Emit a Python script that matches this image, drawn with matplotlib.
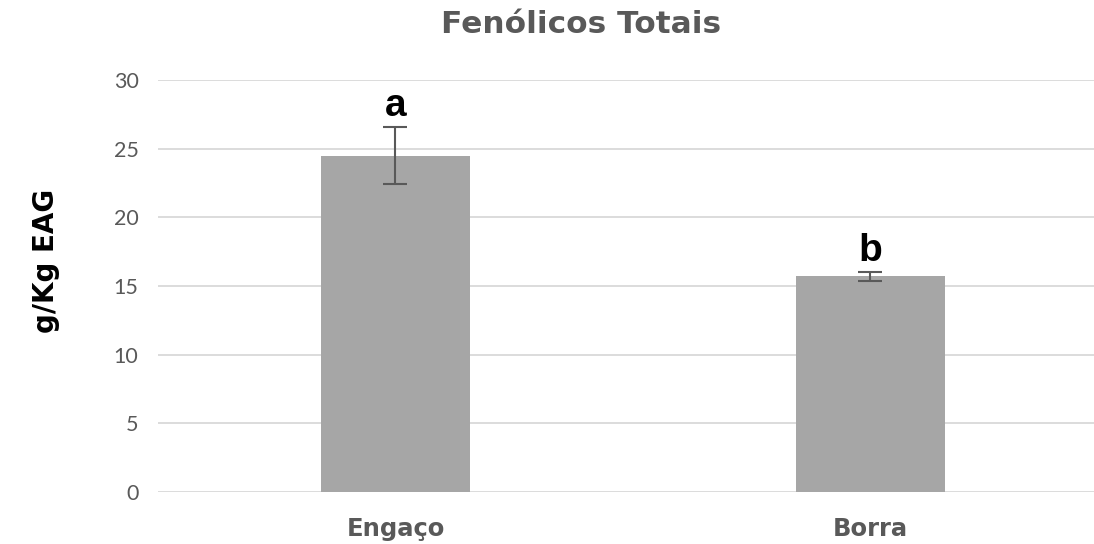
import matplotlib.pyplot as plt
import numpy as np

# Fenólicos totais por resíduo
categorias = ['Engaço', 'Borra']
medias = [24.5, 15.7]
desvios = [2.07, 0.35]
letras = ['a', 'b']

plt.rcParams['font.family'] = ['Liberation Sans', 'DejaVu Sans']

cinza_texto = '#595959'
cor_barra = '#a6a6a6'

fig = plt.figure(figsize=(10.94, 5.44), dpi=100)
ax = fig.add_axes([0.1444, 0.0956, 0.8556, 0.7574])

x = np.arange(len(categorias))
ax.bar(x, medias, width=0.314, color=cor_barra, zorder=2)
ax.errorbar(x, medias, yerr=desvios, fmt='none', ecolor=cinza_texto,
            elinewidth=1.5, capsize=8.5, capthick=1.5, zorder=3)

# letras de significância acima das barras de erro
for xi, m, d, l in zip(x, medias, desvios, letras):
    ax.text(xi, m + d + 0.8, l, ha='center', va='baseline',
            fontsize=28, fontweight='bold', color='black')

ax.set_xlim(-0.5005, 1.472)
ax.set_ylim(0, 30)
ax.set_yticks(range(0, 31, 5))
ax.set_xticks(x)
ax.set_xticklabels(categorias, fontsize=17.5, fontweight='bold',
                   color=cinza_texto, family='DejaVu Sans')
for lbl in ax.get_yticklabels():
    lbl.set_fontfamily(['Lato', 'DejaVu Sans'])
    lbl.set_fontsize(15.5)
    lbl.set_color(cinza_texto)

ax.tick_params(axis='both', length=0)
ax.tick_params(axis='y', pad=14)
ax.tick_params(axis='x', pad=18)
ax.grid(axis='y', color='#d9d9d9', linewidth=1.3, zorder=0)
ax.set_axisbelow(True)
for s in ax.spines.values():
    s.set_visible(False)

ax.set_ylabel('g/Kg EAG', fontsize=20, fontweight='bold', color='black',
              family='DejaVu Sans')
ax.yaxis.set_label_coords(-0.1045, 0.56)
fig.text(0.531, 0.939, 'Fenólicos Totais', ha='center', va='baseline',
         fontsize=22.5, fontweight='bold', color=cinza_texto, family='DejaVu Sans')

fig.savefig('out.png', dpi=100)
